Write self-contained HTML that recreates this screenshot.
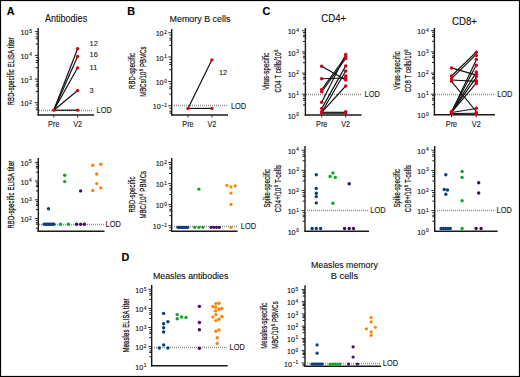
<!DOCTYPE html><html><head><meta charset="utf-8"><style>html,body{margin:0;padding:0;background:#fff}svg{display:block}text{font-family:"Liberation Sans",sans-serif}</style></head><body>
<svg width="520" height="377" viewBox="0 0 520 377">
<rect x="0" y="0" width="520" height="377" fill="#fff"/>
<text x="6.8" y="15.2" font-size="10.8" text-anchor="start" font-weight="bold" fill="#000" stroke="#000" stroke-width="0.12" >A</text>
<text x="66.1" y="21.7" font-size="10.0" text-anchor="middle" font-weight="normal" fill="#111" stroke="#111" stroke-width="0.12" textLength="42.1" lengthAdjust="spacingAndGlyphs">Antibodies</text>
<text transform="translate(14.4,105.3) rotate(-90) scale(0.6,1)" x="0" y="0" font-size="9.6" text-anchor="start" textLength="112.83" lengthAdjust="spacing" fill="#111" stroke="#111" stroke-width="0.3">RBD-specific ELISA titer</text>
<line x1="38.2" y1="28" x2="38.2" y2="115.6" stroke="#1a1a1a" stroke-width="1.4"/>
<line x1="35.80" y1="109.83" x2="38.2" y2="109.83" stroke="#1a1a1a" stroke-width="1.0"/>
<line x1="35.80" y1="107.96" x2="38.2" y2="107.96" stroke="#1a1a1a" stroke-width="1.0"/>
<line x1="35.80" y1="105.00" x2="38.2" y2="105.00" stroke="#1a1a1a" stroke-width="1.0"/>
<line x1="35.80" y1="91.39" x2="38.2" y2="91.39" stroke="#1a1a1a" stroke-width="1.0"/>
<line x1="35.80" y1="86.13" x2="38.2" y2="86.13" stroke="#1a1a1a" stroke-width="1.0"/>
<line x1="35.80" y1="84.26" x2="38.2" y2="84.26" stroke="#1a1a1a" stroke-width="1.0"/>
<line x1="35.80" y1="81.30" x2="38.2" y2="81.30" stroke="#1a1a1a" stroke-width="1.0"/>
<line x1="35.80" y1="67.69" x2="38.2" y2="67.69" stroke="#1a1a1a" stroke-width="1.0"/>
<line x1="35.80" y1="62.43" x2="38.2" y2="62.43" stroke="#1a1a1a" stroke-width="1.0"/>
<line x1="35.80" y1="60.56" x2="38.2" y2="60.56" stroke="#1a1a1a" stroke-width="1.0"/>
<line x1="35.80" y1="57.60" x2="38.2" y2="57.60" stroke="#1a1a1a" stroke-width="1.0"/>
<line x1="35.80" y1="43.99" x2="38.2" y2="43.99" stroke="#1a1a1a" stroke-width="1.0"/>
<line x1="35.80" y1="38.73" x2="38.2" y2="38.73" stroke="#1a1a1a" stroke-width="1.0"/>
<line x1="35.80" y1="36.86" x2="38.2" y2="36.86" stroke="#1a1a1a" stroke-width="1.0"/>
<line x1="35.80" y1="33.90" x2="38.2" y2="33.90" stroke="#1a1a1a" stroke-width="1.0"/>
<line x1="34.80" y1="102.70" x2="38.2" y2="102.70" stroke="#1a1a1a" stroke-width="0.9"/>
<text x="31.8" y="106.30" font-size="7.2" text-anchor="end" fill="#111" stroke="#111" stroke-width="0.12">10<tspan dx="0.6" dy="-2.6" font-size="4.8">2</tspan></text>
<line x1="34.80" y1="79.10" x2="38.2" y2="79.10" stroke="#1a1a1a" stroke-width="0.9"/>
<text x="31.8" y="82.70" font-size="7.2" text-anchor="end" fill="#111" stroke="#111" stroke-width="0.12">10<tspan dx="0.6" dy="-2.6" font-size="4.8">3</tspan></text>
<line x1="34.80" y1="55.40" x2="38.2" y2="55.40" stroke="#1a1a1a" stroke-width="0.9"/>
<text x="31.8" y="59.00" font-size="7.2" text-anchor="end" fill="#111" stroke="#111" stroke-width="0.12">10<tspan dx="0.6" dy="-2.6" font-size="4.8">4</tspan></text>
<line x1="34.80" y1="31.60" x2="38.2" y2="31.60" stroke="#1a1a1a" stroke-width="0.9"/>
<text x="31.8" y="35.20" font-size="7.2" text-anchor="end" fill="#111" stroke="#111" stroke-width="0.12">10<tspan dx="0.6" dy="-2.6" font-size="4.8">5</tspan></text>
<line x1="37.5" y1="115" x2="94" y2="115" stroke="#1a1a1a" stroke-width="1.4"/>
<line x1="53.8" y1="115" x2="53.8" y2="117.5" stroke="#1a1a1a" stroke-width="0.9"/>
<line x1="77.6" y1="115" x2="77.6" y2="117.5" stroke="#1a1a1a" stroke-width="0.9"/>
<text x="53.8" y="127" font-size="8.4" text-anchor="middle" font-weight="normal" fill="#1a1a1a" stroke="#1a1a1a" stroke-width="0.12" textLength="11.36" lengthAdjust="spacingAndGlyphs">Pre</text>
<text x="77.6" y="127" font-size="8.4" text-anchor="middle" font-weight="normal" fill="#1a1a1a" stroke="#1a1a1a" stroke-width="0.12" textLength="8.93" lengthAdjust="spacingAndGlyphs">V2</text>
<line x1="39" y1="110.5" x2="93.5" y2="110.5" stroke="#8f8f8f" stroke-width="1.3" stroke-dasharray="1 1"/>
<text x="96.6" y="113.10000000000001" font-size="8.2" text-anchor="start" font-weight="normal" fill="#1a1a1a" stroke="#1a1a1a" stroke-width="0.12" textLength="15.22" lengthAdjust="spacingAndGlyphs">LOD</text>
<line x1="53.8" y1="110.2" x2="77.6" y2="48.7" stroke="#111" stroke-width="1.2"/>
<line x1="53.8" y1="110.2" x2="77.6" y2="56.5" stroke="#111" stroke-width="1.2"/>
<line x1="53.8" y1="110.2" x2="77.6" y2="67.8" stroke="#111" stroke-width="1.2"/>
<line x1="53.8" y1="110.2" x2="77.6" y2="90.5" stroke="#111" stroke-width="1.2"/>
<line x1="53.8" y1="110.2" x2="77.6" y2="110.2" stroke="#111" stroke-width="1.2"/>
<circle cx="77.6" cy="48.7" r="1.65" fill="#d0021b"/>
<circle cx="77.6" cy="56.5" r="1.65" fill="#d0021b"/>
<circle cx="77.6" cy="67.8" r="1.65" fill="#d0021b"/>
<circle cx="77.6" cy="90.5" r="1.65" fill="#d0021b"/>
<circle cx="77.6" cy="110.2" r="1.65" fill="#d0021b"/>
<circle cx="53.8" cy="110.2" r="1.65" fill="#d0021b"/>
<text x="89.6" y="46.2" font-size="8.0" text-anchor="start" font-weight="normal" fill="#1a1a1a" stroke="#1a1a1a" stroke-width="0.12" textLength="8.23" lengthAdjust="spacingAndGlyphs">12</text>
<text x="89.6" y="56.800000000000004" font-size="8.0" text-anchor="start" font-weight="normal" fill="#1a1a1a" stroke="#1a1a1a" stroke-width="0.12" textLength="8.23" lengthAdjust="spacingAndGlyphs">16</text>
<text x="89.6" y="69.89999999999999" font-size="8.0" text-anchor="start" font-weight="normal" fill="#1a1a1a" stroke="#1a1a1a" stroke-width="0.12" textLength="7.68" lengthAdjust="spacingAndGlyphs">11</text>
<text x="89.6" y="92.6" font-size="8.0" text-anchor="start" font-weight="normal" fill="#1a1a1a" stroke="#1a1a1a" stroke-width="0.12" textLength="4.12" lengthAdjust="spacingAndGlyphs">3</text>
<text x="127.2" y="15.2" font-size="10.8" text-anchor="start" font-weight="bold" fill="#000" stroke="#000" stroke-width="0.12" >B</text>
<text x="200.0" y="21.5" font-size="9.2" text-anchor="middle" font-weight="normal" fill="#111" stroke="#111" stroke-width="0.12" textLength="60.9" lengthAdjust="spacingAndGlyphs">Memory B cells</text>
<text transform="translate(134.6,88.9) rotate(-90) scale(0.66,1)" x="0" y="0" font-size="9.0" text-anchor="start" textLength="54.24" lengthAdjust="spacing" fill="#111" stroke="#111" stroke-width="0.22">RBD-specific</text>
<text transform="translate(145.6,96.8) rotate(-90) scale(0.66,1)" x="0" y="0" font-size="9.0" text-anchor="start" textLength="76.36" lengthAdjust="spacing" fill="#111" stroke="#111" stroke-width="0.22">MBCs/10<tspan dx="0.4" dy="-2.9" font-size="6.2">6</tspan><tspan dy="2.9"> PBMCs</tspan></text>
<line x1="171.7" y1="29" x2="171.7" y2="115.6" stroke="#1a1a1a" stroke-width="1.4"/>
<line x1="169.30" y1="113.14" x2="171.7" y2="113.14" stroke="#1a1a1a" stroke-width="1.0"/>
<line x1="169.30" y1="111.21" x2="171.7" y2="111.21" stroke="#1a1a1a" stroke-width="1.0"/>
<line x1="169.30" y1="108.16" x2="171.7" y2="108.16" stroke="#1a1a1a" stroke-width="1.0"/>
<line x1="169.30" y1="94.17" x2="171.7" y2="94.17" stroke="#1a1a1a" stroke-width="1.0"/>
<line x1="169.30" y1="88.77" x2="171.7" y2="88.77" stroke="#1a1a1a" stroke-width="1.0"/>
<line x1="169.30" y1="86.84" x2="171.7" y2="86.84" stroke="#1a1a1a" stroke-width="1.0"/>
<line x1="169.30" y1="83.79" x2="171.7" y2="83.79" stroke="#1a1a1a" stroke-width="1.0"/>
<line x1="169.30" y1="69.80" x2="171.7" y2="69.80" stroke="#1a1a1a" stroke-width="1.0"/>
<line x1="169.30" y1="64.40" x2="171.7" y2="64.40" stroke="#1a1a1a" stroke-width="1.0"/>
<line x1="169.30" y1="62.47" x2="171.7" y2="62.47" stroke="#1a1a1a" stroke-width="1.0"/>
<line x1="169.30" y1="59.42" x2="171.7" y2="59.42" stroke="#1a1a1a" stroke-width="1.0"/>
<line x1="169.30" y1="45.43" x2="171.7" y2="45.43" stroke="#1a1a1a" stroke-width="1.0"/>
<line x1="169.30" y1="40.03" x2="171.7" y2="40.03" stroke="#1a1a1a" stroke-width="1.0"/>
<line x1="169.30" y1="38.10" x2="171.7" y2="38.10" stroke="#1a1a1a" stroke-width="1.0"/>
<line x1="169.30" y1="35.05" x2="171.7" y2="35.05" stroke="#1a1a1a" stroke-width="1.0"/>
<line x1="168.30" y1="105.80" x2="171.7" y2="105.80" stroke="#1a1a1a" stroke-width="0.9"/>
<text x="166.9" y="109.40" font-size="7.2" text-anchor="end" fill="#111" stroke="#111" stroke-width="0.12">10<tspan dx="0.6" dy="-2.6" font-size="4.8">−1</tspan></text>
<line x1="168.30" y1="81.50" x2="171.7" y2="81.50" stroke="#1a1a1a" stroke-width="0.9"/>
<text x="166.9" y="85.10" font-size="7.2" text-anchor="end" fill="#111" stroke="#111" stroke-width="0.12">10<tspan dx="0.6" dy="-2.6" font-size="4.8">0</tspan></text>
<line x1="168.30" y1="57.00" x2="171.7" y2="57.00" stroke="#1a1a1a" stroke-width="0.9"/>
<text x="166.9" y="60.60" font-size="7.2" text-anchor="end" fill="#111" stroke="#111" stroke-width="0.12">10<tspan dx="0.6" dy="-2.6" font-size="4.8">1</tspan></text>
<line x1="168.30" y1="32.70" x2="171.7" y2="32.70" stroke="#1a1a1a" stroke-width="0.9"/>
<text x="166.9" y="36.30" font-size="7.2" text-anchor="end" fill="#111" stroke="#111" stroke-width="0.12">10<tspan dx="0.6" dy="-2.6" font-size="4.8">2</tspan></text>
<line x1="171.0" y1="115" x2="228" y2="115" stroke="#1a1a1a" stroke-width="1.4"/>
<line x1="188" y1="115" x2="188" y2="117.5" stroke="#1a1a1a" stroke-width="0.9"/>
<line x1="211.9" y1="115" x2="211.9" y2="117.5" stroke="#1a1a1a" stroke-width="0.9"/>
<text x="188" y="126.9" font-size="8.4" text-anchor="middle" font-weight="normal" fill="#1a1a1a" stroke="#1a1a1a" stroke-width="0.12" textLength="11.36" lengthAdjust="spacingAndGlyphs">Pre</text>
<text x="211.9" y="126.9" font-size="8.4" text-anchor="middle" font-weight="normal" fill="#1a1a1a" stroke="#1a1a1a" stroke-width="0.12" textLength="8.93" lengthAdjust="spacingAndGlyphs">V2</text>
<line x1="172" y1="105.5" x2="228" y2="105.5" stroke="#8f8f8f" stroke-width="1.3" stroke-dasharray="1 1"/>
<text x="231" y="108.7" font-size="8.2" text-anchor="start" font-weight="normal" fill="#1a1a1a" stroke="#1a1a1a" stroke-width="0.12" textLength="15.22" lengthAdjust="spacingAndGlyphs">LOD</text>
<line x1="188" y1="108.4" x2="211.9" y2="59.8" stroke="#111" stroke-width="1.2"/>
<line x1="188" y1="108.4" x2="211.9" y2="108.4" stroke="#111" stroke-width="1.2"/>
<circle cx="188" cy="108.4" r="1.65" fill="#d0021b"/>
<circle cx="211.9" cy="59.8" r="1.65" fill="#d0021b"/>
<circle cx="211.9" cy="108.4" r="1.65" fill="#d0021b"/>
<text x="219" y="75.3" font-size="8.0" text-anchor="start" font-weight="normal" fill="#1a1a1a" stroke="#1a1a1a" stroke-width="0.12" textLength="8.23" lengthAdjust="spacingAndGlyphs">12</text>
<text x="262.5" y="15.2" font-size="10.8" text-anchor="start" font-weight="bold" fill="#000" stroke="#000" stroke-width="0.12" >C</text>
<text x="333.7" y="21.5" font-size="10.6" text-anchor="middle" font-weight="normal" fill="#111" stroke="#111" stroke-width="0.12" textLength="24.8" lengthAdjust="spacingAndGlyphs">CD4+</text>
<text transform="translate(269.4,90.1) rotate(-90) scale(0.66,1)" x="0" y="0" font-size="9.0" text-anchor="start" textLength="56.67" lengthAdjust="spacing" fill="#111" stroke="#111" stroke-width="0.22">Virus-specific</text>
<text transform="translate(281.0,92.4) rotate(-90) scale(0.66,1)" x="0" y="0" font-size="9.0" text-anchor="start" textLength="64.55" lengthAdjust="spacing" fill="#111" stroke="#111" stroke-width="0.22">CD4 T cells/10<tspan dx="0.4" dy="-2.9" font-size="6.2">6</tspan><tspan dy="2.9"></tspan></text>
<line x1="305.4" y1="28" x2="305.4" y2="115.6" stroke="#1a1a1a" stroke-width="1.4"/>
<line x1="303.00" y1="104.91" x2="305.4" y2="104.91" stroke="#1a1a1a" stroke-width="1.0"/>
<line x1="303.00" y1="100.22" x2="305.4" y2="100.22" stroke="#1a1a1a" stroke-width="1.0"/>
<line x1="303.00" y1="98.54" x2="305.4" y2="98.54" stroke="#1a1a1a" stroke-width="1.0"/>
<line x1="303.00" y1="95.90" x2="305.4" y2="95.90" stroke="#1a1a1a" stroke-width="1.0"/>
<line x1="303.00" y1="83.76" x2="305.4" y2="83.76" stroke="#1a1a1a" stroke-width="1.0"/>
<line x1="303.00" y1="79.07" x2="305.4" y2="79.07" stroke="#1a1a1a" stroke-width="1.0"/>
<line x1="303.00" y1="77.39" x2="305.4" y2="77.39" stroke="#1a1a1a" stroke-width="1.0"/>
<line x1="303.00" y1="74.75" x2="305.4" y2="74.75" stroke="#1a1a1a" stroke-width="1.0"/>
<line x1="303.00" y1="62.61" x2="305.4" y2="62.61" stroke="#1a1a1a" stroke-width="1.0"/>
<line x1="303.00" y1="57.92" x2="305.4" y2="57.92" stroke="#1a1a1a" stroke-width="1.0"/>
<line x1="303.00" y1="56.24" x2="305.4" y2="56.24" stroke="#1a1a1a" stroke-width="1.0"/>
<line x1="303.00" y1="53.60" x2="305.4" y2="53.60" stroke="#1a1a1a" stroke-width="1.0"/>
<line x1="303.00" y1="41.46" x2="305.4" y2="41.46" stroke="#1a1a1a" stroke-width="1.0"/>
<line x1="303.00" y1="36.77" x2="305.4" y2="36.77" stroke="#1a1a1a" stroke-width="1.0"/>
<line x1="303.00" y1="35.09" x2="305.4" y2="35.09" stroke="#1a1a1a" stroke-width="1.0"/>
<line x1="303.00" y1="32.45" x2="305.4" y2="32.45" stroke="#1a1a1a" stroke-width="1.0"/>
<text x="298.9" y="118.60" font-size="7.2" text-anchor="end" fill="#111" stroke="#111" stroke-width="0.12">10<tspan dx="0.6" dy="-2.6" font-size="4.8">0</tspan></text>
<line x1="302.00" y1="94.20" x2="305.4" y2="94.20" stroke="#1a1a1a" stroke-width="0.9"/>
<text x="298.9" y="97.80" font-size="7.2" text-anchor="end" fill="#111" stroke="#111" stroke-width="0.12">10<tspan dx="0.6" dy="-2.6" font-size="4.8">1</tspan></text>
<line x1="302.00" y1="73.10" x2="305.4" y2="73.10" stroke="#1a1a1a" stroke-width="0.9"/>
<text x="298.9" y="76.70" font-size="7.2" text-anchor="end" fill="#111" stroke="#111" stroke-width="0.12">10<tspan dx="0.6" dy="-2.6" font-size="4.8">2</tspan></text>
<line x1="302.00" y1="51.90" x2="305.4" y2="51.90" stroke="#1a1a1a" stroke-width="0.9"/>
<text x="298.9" y="55.50" font-size="7.2" text-anchor="end" fill="#111" stroke="#111" stroke-width="0.12">10<tspan dx="0.6" dy="-2.6" font-size="4.8">3</tspan></text>
<line x1="302.00" y1="30.70" x2="305.4" y2="30.70" stroke="#1a1a1a" stroke-width="0.9"/>
<text x="298.9" y="34.30" font-size="7.2" text-anchor="end" fill="#111" stroke="#111" stroke-width="0.12">10<tspan dx="0.6" dy="-2.6" font-size="4.8">4</tspan></text>
<line x1="304.7" y1="115" x2="361.5" y2="115" stroke="#1a1a1a" stroke-width="1.4"/>
<line x1="321.7" y1="115" x2="321.7" y2="117.5" stroke="#1a1a1a" stroke-width="0.9"/>
<line x1="345.7" y1="115" x2="345.7" y2="117.5" stroke="#1a1a1a" stroke-width="0.9"/>
<text x="321.7" y="126.9" font-size="8.4" text-anchor="middle" font-weight="normal" fill="#1a1a1a" stroke="#1a1a1a" stroke-width="0.12" textLength="11.36" lengthAdjust="spacingAndGlyphs">Pre</text>
<text x="345.7" y="126.9" font-size="8.4" text-anchor="middle" font-weight="normal" fill="#1a1a1a" stroke="#1a1a1a" stroke-width="0.12" textLength="8.93" lengthAdjust="spacingAndGlyphs">V2</text>
<line x1="306" y1="94.5" x2="361.5" y2="94.5" stroke="#8f8f8f" stroke-width="1.3" stroke-dasharray="1 1"/>
<text x="364.6" y="97.10000000000001" font-size="8.2" text-anchor="start" font-weight="normal" fill="#1a1a1a" stroke="#1a1a1a" stroke-width="0.12" textLength="15.22" lengthAdjust="spacingAndGlyphs">LOD</text>
<line x1="321.7" y1="66.2" x2="345.7" y2="80.0" stroke="#111" stroke-width="1.15"/>
<line x1="321.7" y1="78.7" x2="345.7" y2="78.0" stroke="#111" stroke-width="1.15"/>
<line x1="321.7" y1="89.6" x2="345.7" y2="56.5" stroke="#111" stroke-width="1.15"/>
<line x1="321.7" y1="91.8" x2="345.7" y2="58.5" stroke="#111" stroke-width="1.15"/>
<line x1="321.7" y1="102.3" x2="345.7" y2="54.5" stroke="#111" stroke-width="1.15"/>
<line x1="321.7" y1="108.6" x2="345.7" y2="65.9" stroke="#111" stroke-width="1.15"/>
<line x1="321.7" y1="112.3" x2="345.7" y2="71.0" stroke="#111" stroke-width="1.15"/>
<line x1="321.7" y1="112.3" x2="345.7" y2="86.0" stroke="#111" stroke-width="1.15"/>
<line x1="321.7" y1="112.3" x2="345.7" y2="112.3" stroke="#111" stroke-width="1.15"/>
<line x1="321.7" y1="113.2" x2="345.7" y2="113.2" stroke="#111" stroke-width="1.15"/>
<circle cx="321.7" cy="66.2" r="1.75" fill="#d0021b"/>
<circle cx="321.7" cy="78.7" r="1.75" fill="#d0021b"/>
<circle cx="321.7" cy="89.6" r="1.75" fill="#d0021b"/>
<circle cx="321.7" cy="91.8" r="1.75" fill="#d0021b"/>
<circle cx="321.7" cy="102.3" r="1.75" fill="#d0021b"/>
<circle cx="321.7" cy="108.6" r="1.75" fill="#d0021b"/>
<circle cx="321.7" cy="111.8" r="1.75" fill="#d0021b"/>
<circle cx="321.7" cy="113.0" r="1.75" fill="#d0021b"/>
<circle cx="345.7" cy="54.5" r="1.75" fill="#d0021b"/>
<circle cx="345.7" cy="56.5" r="1.75" fill="#d0021b"/>
<circle cx="345.7" cy="58.5" r="1.75" fill="#d0021b"/>
<circle cx="345.7" cy="65.9" r="1.75" fill="#d0021b"/>
<circle cx="345.7" cy="71.0" r="1.75" fill="#d0021b"/>
<circle cx="345.7" cy="76.0" r="1.75" fill="#d0021b"/>
<circle cx="345.7" cy="78.0" r="1.75" fill="#d0021b"/>
<circle cx="345.7" cy="80.0" r="1.75" fill="#d0021b"/>
<circle cx="345.7" cy="86.0" r="1.75" fill="#d0021b"/>
<circle cx="345.7" cy="111.8" r="1.75" fill="#d0021b"/>
<circle cx="345.7" cy="113.0" r="1.75" fill="#d0021b"/>
<text x="464.5" y="24.6" font-size="10.6" text-anchor="middle" font-weight="normal" fill="#111" stroke="#111" stroke-width="0.12" textLength="25.0" lengthAdjust="spacingAndGlyphs">CD8+</text>
<text transform="translate(400.0,89.7) rotate(-90) scale(0.66,1)" x="0" y="0" font-size="9.0" text-anchor="start" textLength="58.18" lengthAdjust="spacing" fill="#111" stroke="#111" stroke-width="0.22">Virus-specific</text>
<text transform="translate(411.2,92.3) rotate(-90) scale(0.66,1)" x="0" y="0" font-size="9.0" text-anchor="start" textLength="65.00" lengthAdjust="spacing" fill="#111" stroke="#111" stroke-width="0.22">CD8 T cells/10<tspan dx="0.4" dy="-2.9" font-size="6.2">6</tspan><tspan dy="2.9"></tspan></text>
<line x1="434.4" y1="28" x2="434.4" y2="115.39999999999999" stroke="#1a1a1a" stroke-width="1.4"/>
<line x1="432.00" y1="104.71" x2="434.4" y2="104.71" stroke="#1a1a1a" stroke-width="1.0"/>
<line x1="432.00" y1="100.02" x2="434.4" y2="100.02" stroke="#1a1a1a" stroke-width="1.0"/>
<line x1="432.00" y1="98.34" x2="434.4" y2="98.34" stroke="#1a1a1a" stroke-width="1.0"/>
<line x1="432.00" y1="95.70" x2="434.4" y2="95.70" stroke="#1a1a1a" stroke-width="1.0"/>
<line x1="432.00" y1="83.56" x2="434.4" y2="83.56" stroke="#1a1a1a" stroke-width="1.0"/>
<line x1="432.00" y1="78.87" x2="434.4" y2="78.87" stroke="#1a1a1a" stroke-width="1.0"/>
<line x1="432.00" y1="77.19" x2="434.4" y2="77.19" stroke="#1a1a1a" stroke-width="1.0"/>
<line x1="432.00" y1="74.55" x2="434.4" y2="74.55" stroke="#1a1a1a" stroke-width="1.0"/>
<line x1="432.00" y1="62.41" x2="434.4" y2="62.41" stroke="#1a1a1a" stroke-width="1.0"/>
<line x1="432.00" y1="57.72" x2="434.4" y2="57.72" stroke="#1a1a1a" stroke-width="1.0"/>
<line x1="432.00" y1="56.04" x2="434.4" y2="56.04" stroke="#1a1a1a" stroke-width="1.0"/>
<line x1="432.00" y1="53.40" x2="434.4" y2="53.40" stroke="#1a1a1a" stroke-width="1.0"/>
<line x1="432.00" y1="41.26" x2="434.4" y2="41.26" stroke="#1a1a1a" stroke-width="1.0"/>
<line x1="432.00" y1="36.57" x2="434.4" y2="36.57" stroke="#1a1a1a" stroke-width="1.0"/>
<line x1="432.00" y1="34.89" x2="434.4" y2="34.89" stroke="#1a1a1a" stroke-width="1.0"/>
<line x1="432.00" y1="32.25" x2="434.4" y2="32.25" stroke="#1a1a1a" stroke-width="1.0"/>
<text x="428.6" y="118.40" font-size="7.2" text-anchor="end" fill="#111" stroke="#111" stroke-width="0.12">10<tspan dx="0.6" dy="-2.6" font-size="4.8">0</tspan></text>
<line x1="431.00" y1="94.20" x2="434.4" y2="94.20" stroke="#1a1a1a" stroke-width="0.9"/>
<text x="428.6" y="97.80" font-size="7.2" text-anchor="end" fill="#111" stroke="#111" stroke-width="0.12">10<tspan dx="0.6" dy="-2.6" font-size="4.8">1</tspan></text>
<line x1="431.00" y1="73.10" x2="434.4" y2="73.10" stroke="#1a1a1a" stroke-width="0.9"/>
<text x="428.6" y="76.70" font-size="7.2" text-anchor="end" fill="#111" stroke="#111" stroke-width="0.12">10<tspan dx="0.6" dy="-2.6" font-size="4.8">2</tspan></text>
<line x1="431.00" y1="51.90" x2="434.4" y2="51.90" stroke="#1a1a1a" stroke-width="0.9"/>
<text x="428.6" y="55.50" font-size="7.2" text-anchor="end" fill="#111" stroke="#111" stroke-width="0.12">10<tspan dx="0.6" dy="-2.6" font-size="4.8">3</tspan></text>
<line x1="431.00" y1="30.70" x2="434.4" y2="30.70" stroke="#1a1a1a" stroke-width="0.9"/>
<text x="428.6" y="34.30" font-size="7.2" text-anchor="end" fill="#111" stroke="#111" stroke-width="0.12">10<tspan dx="0.6" dy="-2.6" font-size="4.8">4</tspan></text>
<line x1="433.7" y1="114.8" x2="495" y2="114.8" stroke="#1a1a1a" stroke-width="1.4"/>
<line x1="451.5" y1="114.8" x2="451.5" y2="117.3" stroke="#1a1a1a" stroke-width="0.9"/>
<line x1="476.3" y1="114.8" x2="476.3" y2="117.3" stroke="#1a1a1a" stroke-width="0.9"/>
<text x="451.5" y="126.6" font-size="8.4" text-anchor="middle" font-weight="normal" fill="#1a1a1a" stroke="#1a1a1a" stroke-width="0.12" textLength="11.36" lengthAdjust="spacingAndGlyphs">Pre</text>
<text x="476.3" y="126.6" font-size="8.4" text-anchor="middle" font-weight="normal" fill="#1a1a1a" stroke="#1a1a1a" stroke-width="0.12" textLength="8.93" lengthAdjust="spacingAndGlyphs">V2</text>
<line x1="435" y1="94.5" x2="495.4" y2="94.5" stroke="#8f8f8f" stroke-width="1.3" stroke-dasharray="1 1"/>
<text x="497.2" y="97.10000000000001" font-size="8.2" text-anchor="start" font-weight="normal" fill="#1a1a1a" stroke="#1a1a1a" stroke-width="0.12" textLength="15.22" lengthAdjust="spacingAndGlyphs">LOD</text>
<line x1="451.5" y1="67.9" x2="476.3" y2="75.1" stroke="#111" stroke-width="1.15"/>
<line x1="451.5" y1="76.0" x2="476.3" y2="52.0" stroke="#111" stroke-width="1.15"/>
<line x1="451.5" y1="78.7" x2="476.3" y2="54.3" stroke="#111" stroke-width="1.15"/>
<line x1="451.5" y1="80.0" x2="476.3" y2="81.4" stroke="#111" stroke-width="1.15"/>
<line x1="451.5" y1="81.4" x2="476.3" y2="111.5" stroke="#111" stroke-width="1.15"/>
<line x1="451.5" y1="112.3" x2="476.3" y2="59.7" stroke="#111" stroke-width="1.15"/>
<line x1="451.5" y1="112.3" x2="476.3" y2="65.1" stroke="#111" stroke-width="1.15"/>
<line x1="451.5" y1="112.3" x2="476.3" y2="72.4" stroke="#111" stroke-width="1.15"/>
<line x1="451.5" y1="112.3" x2="476.3" y2="77.4" stroke="#111" stroke-width="1.15"/>
<line x1="451.5" y1="112.3" x2="476.3" y2="83.2" stroke="#111" stroke-width="1.15"/>
<line x1="451.5" y1="112.5" x2="476.3" y2="108.5" stroke="#111" stroke-width="1.15"/>
<line x1="451.5" y1="113.5" x2="476.3" y2="113.3" stroke="#111" stroke-width="1.15"/>
<circle cx="451.5" cy="67.9" r="1.75" fill="#d0021b"/>
<circle cx="451.5" cy="76.0" r="1.75" fill="#d0021b"/>
<circle cx="451.5" cy="78.7" r="1.75" fill="#d0021b"/>
<circle cx="451.5" cy="81.2" r="1.75" fill="#d0021b"/>
<circle cx="451.5" cy="111.5" r="1.75" fill="#d0021b"/>
<circle cx="451.5" cy="112.5" r="1.75" fill="#d0021b"/>
<circle cx="451.5" cy="113.5" r="1.75" fill="#d0021b"/>
<circle cx="476.3" cy="52.3" r="1.75" fill="#d0021b"/>
<circle cx="476.3" cy="55.4" r="1.75" fill="#d0021b"/>
<circle cx="476.3" cy="59.5" r="1.75" fill="#d0021b"/>
<circle cx="476.3" cy="65.2" r="1.75" fill="#d0021b"/>
<circle cx="476.3" cy="71.9" r="1.75" fill="#d0021b"/>
<circle cx="476.3" cy="74.3" r="1.75" fill="#d0021b"/>
<circle cx="476.3" cy="76.7" r="1.75" fill="#d0021b"/>
<circle cx="476.3" cy="80.8" r="1.75" fill="#d0021b"/>
<circle cx="476.3" cy="81.4" r="1.75" fill="#d0021b"/>
<circle cx="476.3" cy="83.6" r="1.75" fill="#d0021b"/>
<circle cx="476.3" cy="108.2" r="1.75" fill="#d0021b"/>
<circle cx="476.3" cy="112.5" r="1.75" fill="#d0021b"/>
<circle cx="476.3" cy="113.8" r="1.75" fill="#d0021b"/>
<text transform="translate(14.4,228.6) rotate(-90) scale(0.6,1)" x="0" y="0" font-size="9.6" text-anchor="start" textLength="113.17" lengthAdjust="spacing" fill="#111" stroke="#111" stroke-width="0.3">RBD-specific ELISA titer</text>
<line x1="38.3" y1="158" x2="38.3" y2="231.79999999999998" stroke="#1a1a1a" stroke-width="1.4"/>
<line x1="35.90" y1="228.29" x2="38.3" y2="228.29" stroke="#1a1a1a" stroke-width="1.0"/>
<line x1="35.90" y1="224.14" x2="38.3" y2="224.14" stroke="#1a1a1a" stroke-width="1.0"/>
<line x1="35.90" y1="222.66" x2="38.3" y2="222.66" stroke="#1a1a1a" stroke-width="1.0"/>
<line x1="35.90" y1="220.32" x2="38.3" y2="220.32" stroke="#1a1a1a" stroke-width="1.0"/>
<line x1="35.90" y1="209.56" x2="38.3" y2="209.56" stroke="#1a1a1a" stroke-width="1.0"/>
<line x1="35.90" y1="205.41" x2="38.3" y2="205.41" stroke="#1a1a1a" stroke-width="1.0"/>
<line x1="35.90" y1="203.93" x2="38.3" y2="203.93" stroke="#1a1a1a" stroke-width="1.0"/>
<line x1="35.90" y1="201.59" x2="38.3" y2="201.59" stroke="#1a1a1a" stroke-width="1.0"/>
<line x1="35.90" y1="190.83" x2="38.3" y2="190.83" stroke="#1a1a1a" stroke-width="1.0"/>
<line x1="35.90" y1="186.68" x2="38.3" y2="186.68" stroke="#1a1a1a" stroke-width="1.0"/>
<line x1="35.90" y1="185.20" x2="38.3" y2="185.20" stroke="#1a1a1a" stroke-width="1.0"/>
<line x1="35.90" y1="182.86" x2="38.3" y2="182.86" stroke="#1a1a1a" stroke-width="1.0"/>
<line x1="35.90" y1="172.10" x2="38.3" y2="172.10" stroke="#1a1a1a" stroke-width="1.0"/>
<line x1="35.90" y1="167.95" x2="38.3" y2="167.95" stroke="#1a1a1a" stroke-width="1.0"/>
<line x1="35.90" y1="166.47" x2="38.3" y2="166.47" stroke="#1a1a1a" stroke-width="1.0"/>
<line x1="35.90" y1="164.13" x2="38.3" y2="164.13" stroke="#1a1a1a" stroke-width="1.0"/>
<line x1="34.90" y1="218.50" x2="38.3" y2="218.50" stroke="#1a1a1a" stroke-width="0.9"/>
<text x="31.7" y="222.10" font-size="7.2" text-anchor="end" fill="#111" stroke="#111" stroke-width="0.12">10<tspan dx="0.6" dy="-2.6" font-size="4.8">2</tspan></text>
<line x1="34.90" y1="199.80" x2="38.3" y2="199.80" stroke="#1a1a1a" stroke-width="0.9"/>
<text x="31.7" y="203.40" font-size="7.2" text-anchor="end" fill="#111" stroke="#111" stroke-width="0.12">10<tspan dx="0.6" dy="-2.6" font-size="4.8">3</tspan></text>
<line x1="34.90" y1="181.00" x2="38.3" y2="181.00" stroke="#1a1a1a" stroke-width="0.9"/>
<text x="31.7" y="184.60" font-size="7.2" text-anchor="end" fill="#111" stroke="#111" stroke-width="0.12">10<tspan dx="0.6" dy="-2.6" font-size="4.8">4</tspan></text>
<line x1="34.90" y1="162.30" x2="38.3" y2="162.30" stroke="#1a1a1a" stroke-width="0.9"/>
<text x="31.7" y="165.90" font-size="7.2" text-anchor="end" fill="#111" stroke="#111" stroke-width="0.12">10<tspan dx="0.6" dy="-2.6" font-size="4.8">5</tspan></text>
<line x1="37.599999999999994" y1="231.2" x2="104.5" y2="231.2" stroke="#1a1a1a" stroke-width="1.4"/>
<line x1="39" y1="224.5" x2="104.5" y2="224.5" stroke="#8f8f8f" stroke-width="1.3" stroke-dasharray="1 1"/>
<text x="105.6" y="226.9" font-size="8.2" text-anchor="start" font-weight="normal" fill="#1a1a1a" stroke="#1a1a1a" stroke-width="0.12" textLength="15.22" lengthAdjust="spacingAndGlyphs">LOD</text>
<circle cx="44.2" cy="224.2" r="1.7" fill="#0b3f7e"/>
<circle cx="45.6" cy="224.2" r="1.7" fill="#0b3f7e"/>
<circle cx="47.0" cy="224.2" r="1.7" fill="#0b3f7e"/>
<circle cx="48.4" cy="224.2" r="1.7" fill="#0b3f7e"/>
<circle cx="49.8" cy="224.2" r="1.7" fill="#0b3f7e"/>
<circle cx="51.2" cy="224.2" r="1.7" fill="#0b3f7e"/>
<circle cx="52.6" cy="224.2" r="1.7" fill="#0b3f7e"/>
<circle cx="53.8" cy="224.2" r="1.7" fill="#0b3f7e"/>
<circle cx="48.5" cy="208.7" r="1.7" fill="#0b3f7e"/>
<circle cx="64.7" cy="175.3" r="1.7" fill="#12a52a"/>
<circle cx="64.7" cy="181.6" r="1.7" fill="#12a52a"/>
<circle cx="60.5" cy="224.2" r="1.7" fill="#12a52a"/>
<circle cx="68.4" cy="224.2" r="1.7" fill="#12a52a"/>
<circle cx="80.6" cy="190.9" r="1.7" fill="#430c63"/>
<circle cx="76.6" cy="224.2" r="1.7" fill="#430c63"/>
<circle cx="80.6" cy="224.2" r="1.7" fill="#430c63"/>
<circle cx="84.3" cy="224.2" r="1.7" fill="#430c63"/>
<circle cx="92.7" cy="165.2" r="1.7" fill="#ff8200"/>
<circle cx="100.8" cy="164.2" r="1.7" fill="#ff8200"/>
<circle cx="96.7" cy="174.0" r="1.7" fill="#ff8200"/>
<circle cx="96.7" cy="183.6" r="1.7" fill="#ff8200"/>
<circle cx="92.7" cy="190.4" r="1.7" fill="#ff8200"/>
<circle cx="100.8" cy="187.9" r="1.7" fill="#ff8200"/>
<text transform="translate(134.5,212.6) rotate(-90) scale(0.66,1)" x="0" y="0" font-size="9.0" text-anchor="start" textLength="54.55" lengthAdjust="spacing" fill="#111" stroke="#111" stroke-width="0.22">RBD-specific</text>
<text transform="translate(145.7,218.6) rotate(-90) scale(0.66,1)" x="0" y="0" font-size="9.0" text-anchor="start" textLength="72.27" lengthAdjust="spacing" fill="#111" stroke="#111" stroke-width="0.22">MBC/10<tspan dx="0.4" dy="-2.9" font-size="6.2">6</tspan><tspan dy="2.9"> PBMCs</tspan></text>
<line x1="171.7" y1="158" x2="171.7" y2="231.79999999999998" stroke="#1a1a1a" stroke-width="1.4"/>
<line x1="169.30" y1="230.37" x2="171.7" y2="230.37" stroke="#1a1a1a" stroke-width="1.0"/>
<line x1="169.30" y1="227.74" x2="171.7" y2="227.74" stroke="#1a1a1a" stroke-width="1.0"/>
<line x1="169.30" y1="215.65" x2="171.7" y2="215.65" stroke="#1a1a1a" stroke-width="1.0"/>
<line x1="169.30" y1="210.97" x2="171.7" y2="210.97" stroke="#1a1a1a" stroke-width="1.0"/>
<line x1="169.30" y1="209.30" x2="171.7" y2="209.30" stroke="#1a1a1a" stroke-width="1.0"/>
<line x1="169.30" y1="206.67" x2="171.7" y2="206.67" stroke="#1a1a1a" stroke-width="1.0"/>
<line x1="169.30" y1="194.58" x2="171.7" y2="194.58" stroke="#1a1a1a" stroke-width="1.0"/>
<line x1="169.30" y1="189.90" x2="171.7" y2="189.90" stroke="#1a1a1a" stroke-width="1.0"/>
<line x1="169.30" y1="188.23" x2="171.7" y2="188.23" stroke="#1a1a1a" stroke-width="1.0"/>
<line x1="169.30" y1="185.60" x2="171.7" y2="185.60" stroke="#1a1a1a" stroke-width="1.0"/>
<line x1="169.30" y1="173.51" x2="171.7" y2="173.51" stroke="#1a1a1a" stroke-width="1.0"/>
<line x1="169.30" y1="168.83" x2="171.7" y2="168.83" stroke="#1a1a1a" stroke-width="1.0"/>
<line x1="169.30" y1="167.16" x2="171.7" y2="167.16" stroke="#1a1a1a" stroke-width="1.0"/>
<line x1="169.30" y1="164.53" x2="171.7" y2="164.53" stroke="#1a1a1a" stroke-width="1.0"/>
<line x1="168.30" y1="225.70" x2="171.7" y2="225.70" stroke="#1a1a1a" stroke-width="0.9"/>
<text x="166.9" y="229.30" font-size="7.2" text-anchor="end" fill="#111" stroke="#111" stroke-width="0.12">10<tspan dx="0.6" dy="-2.6" font-size="4.8">−1</tspan></text>
<line x1="168.30" y1="204.60" x2="171.7" y2="204.60" stroke="#1a1a1a" stroke-width="0.9"/>
<text x="166.9" y="208.20" font-size="7.2" text-anchor="end" fill="#111" stroke="#111" stroke-width="0.12">10<tspan dx="0.6" dy="-2.6" font-size="4.8">0</tspan></text>
<line x1="168.30" y1="183.60" x2="171.7" y2="183.60" stroke="#1a1a1a" stroke-width="0.9"/>
<text x="166.9" y="187.20" font-size="7.2" text-anchor="end" fill="#111" stroke="#111" stroke-width="0.12">10<tspan dx="0.6" dy="-2.6" font-size="4.8">1</tspan></text>
<line x1="168.30" y1="162.50" x2="171.7" y2="162.50" stroke="#1a1a1a" stroke-width="0.9"/>
<text x="166.9" y="166.10" font-size="7.2" text-anchor="end" fill="#111" stroke="#111" stroke-width="0.12">10<tspan dx="0.6" dy="-2.6" font-size="4.8">2</tspan></text>
<line x1="171.0" y1="231.2" x2="237.5" y2="231.2" stroke="#1a1a1a" stroke-width="1.4"/>
<line x1="172" y1="226.5" x2="237.5" y2="226.5" stroke="#8f8f8f" stroke-width="1.3" stroke-dasharray="1 1"/>
<text x="240.8" y="229.3" font-size="8.2" text-anchor="start" font-weight="normal" fill="#1a1a1a" stroke="#1a1a1a" stroke-width="0.12" textLength="15.22" lengthAdjust="spacingAndGlyphs">LOD</text>
<circle cx="178.0" cy="227.3" r="1.6" fill="#0b3f7e"/>
<circle cx="179.4" cy="227.3" r="1.6" fill="#0b3f7e"/>
<circle cx="180.8" cy="227.3" r="1.6" fill="#0b3f7e"/>
<circle cx="182.2" cy="227.3" r="1.6" fill="#0b3f7e"/>
<circle cx="183.6" cy="227.3" r="1.6" fill="#0b3f7e"/>
<circle cx="185.0" cy="227.3" r="1.6" fill="#0b3f7e"/>
<circle cx="186.4" cy="227.3" r="1.6" fill="#0b3f7e"/>
<circle cx="187.8" cy="227.3" r="1.6" fill="#0b3f7e"/>
<circle cx="194.7" cy="227.3" r="1.6" fill="#12a52a"/>
<circle cx="198.9" cy="227.3" r="1.6" fill="#12a52a"/>
<circle cx="202.9" cy="227.3" r="1.6" fill="#12a52a"/>
<circle cx="198.9" cy="189.2" r="1.6" fill="#12a52a"/>
<circle cx="211.0" cy="227.3" r="1.6" fill="#430c63"/>
<circle cx="213.8" cy="227.3" r="1.6" fill="#430c63"/>
<circle cx="216.5" cy="227.3" r="1.6" fill="#430c63"/>
<circle cx="219.3" cy="227.3" r="1.6" fill="#430c63"/>
<circle cx="226.9" cy="185.3" r="1.6" fill="#ff8200"/>
<circle cx="231.0" cy="186.8" r="1.6" fill="#ff8200"/>
<circle cx="235.1" cy="185.8" r="1.6" fill="#ff8200"/>
<circle cx="231.0" cy="193.1" r="1.6" fill="#ff8200"/>
<circle cx="231.0" cy="204.4" r="1.6" fill="#ff8200"/>
<circle cx="231.0" cy="227.3" r="1.6" fill="#ff8200"/>
<text transform="translate(269.9,207.6) rotate(-90) scale(0.66,1)" x="0" y="0" font-size="9.0" text-anchor="start" textLength="58.48" lengthAdjust="spacing" fill="#111" stroke="#111" stroke-width="0.22">Spike-specific</text>
<text transform="translate(281.2,212.2) rotate(-90) scale(0.66,1)" x="0" y="0" font-size="9.0" text-anchor="start" textLength="71.52" lengthAdjust="spacing" fill="#111" stroke="#111" stroke-width="0.22">CD4+/10<tspan dx="0.4" dy="-2.9" font-size="6.2">6</tspan><tspan dy="2.9"> T-cells</tspan></text>
<line x1="305.0" y1="146" x2="305.0" y2="231.4" stroke="#1a1a1a" stroke-width="1.4"/>
<line x1="302.60" y1="221.28" x2="305.0" y2="221.28" stroke="#1a1a1a" stroke-width="1.0"/>
<line x1="302.60" y1="216.80" x2="305.0" y2="216.80" stroke="#1a1a1a" stroke-width="1.0"/>
<line x1="302.60" y1="215.20" x2="305.0" y2="215.20" stroke="#1a1a1a" stroke-width="1.0"/>
<line x1="302.60" y1="212.68" x2="305.0" y2="212.68" stroke="#1a1a1a" stroke-width="1.0"/>
<line x1="302.60" y1="201.11" x2="305.0" y2="201.11" stroke="#1a1a1a" stroke-width="1.0"/>
<line x1="302.60" y1="196.63" x2="305.0" y2="196.63" stroke="#1a1a1a" stroke-width="1.0"/>
<line x1="302.60" y1="195.03" x2="305.0" y2="195.03" stroke="#1a1a1a" stroke-width="1.0"/>
<line x1="302.60" y1="192.51" x2="305.0" y2="192.51" stroke="#1a1a1a" stroke-width="1.0"/>
<line x1="302.60" y1="180.94" x2="305.0" y2="180.94" stroke="#1a1a1a" stroke-width="1.0"/>
<line x1="302.60" y1="176.46" x2="305.0" y2="176.46" stroke="#1a1a1a" stroke-width="1.0"/>
<line x1="302.60" y1="174.86" x2="305.0" y2="174.86" stroke="#1a1a1a" stroke-width="1.0"/>
<line x1="302.60" y1="172.34" x2="305.0" y2="172.34" stroke="#1a1a1a" stroke-width="1.0"/>
<line x1="302.60" y1="160.77" x2="305.0" y2="160.77" stroke="#1a1a1a" stroke-width="1.0"/>
<line x1="302.60" y1="156.29" x2="305.0" y2="156.29" stroke="#1a1a1a" stroke-width="1.0"/>
<line x1="302.60" y1="154.69" x2="305.0" y2="154.69" stroke="#1a1a1a" stroke-width="1.0"/>
<line x1="302.60" y1="152.17" x2="305.0" y2="152.17" stroke="#1a1a1a" stroke-width="1.0"/>
<text x="298.9" y="234.50" font-size="7.2" text-anchor="end" fill="#111" stroke="#111" stroke-width="0.12">10<tspan dx="0.6" dy="-2.6" font-size="4.8">0</tspan></text>
<line x1="301.60" y1="210.60" x2="305.0" y2="210.60" stroke="#1a1a1a" stroke-width="0.9"/>
<text x="298.9" y="214.20" font-size="7.2" text-anchor="end" fill="#111" stroke="#111" stroke-width="0.12">10<tspan dx="0.6" dy="-2.6" font-size="4.8">1</tspan></text>
<line x1="301.60" y1="190.50" x2="305.0" y2="190.50" stroke="#1a1a1a" stroke-width="0.9"/>
<text x="298.9" y="194.10" font-size="7.2" text-anchor="end" fill="#111" stroke="#111" stroke-width="0.12">10<tspan dx="0.6" dy="-2.6" font-size="4.8">2</tspan></text>
<line x1="301.60" y1="170.40" x2="305.0" y2="170.40" stroke="#1a1a1a" stroke-width="0.9"/>
<text x="298.9" y="174.00" font-size="7.2" text-anchor="end" fill="#111" stroke="#111" stroke-width="0.12">10<tspan dx="0.6" dy="-2.6" font-size="4.8">3</tspan></text>
<line x1="301.60" y1="150.20" x2="305.0" y2="150.20" stroke="#1a1a1a" stroke-width="0.9"/>
<text x="298.9" y="153.80" font-size="7.2" text-anchor="end" fill="#111" stroke="#111" stroke-width="0.12">10<tspan dx="0.6" dy="-2.6" font-size="4.8">4</tspan></text>
<line x1="304.3" y1="231.3" x2="369" y2="231.3" stroke="#1a1a1a" stroke-width="1.4"/>
<line x1="305" y1="210.5" x2="368.1" y2="210.5" stroke="#8f8f8f" stroke-width="1.3" stroke-dasharray="1 1"/>
<text x="370.3" y="213.0" font-size="8.2" text-anchor="start" font-weight="normal" fill="#1a1a1a" stroke="#1a1a1a" stroke-width="0.12" textLength="15.22" lengthAdjust="spacingAndGlyphs">LOD</text>
<circle cx="316.3" cy="174.7" r="1.7" fill="#0b3f7e"/>
<circle cx="316.3" cy="188.4" r="1.7" fill="#0b3f7e"/>
<circle cx="316.3" cy="193.2" r="1.7" fill="#0b3f7e"/>
<circle cx="316.3" cy="196.6" r="1.7" fill="#0b3f7e"/>
<circle cx="316.3" cy="202.9" r="1.7" fill="#0b3f7e"/>
<circle cx="312.1" cy="228.5" r="1.7" fill="#0b3f7e"/>
<circle cx="316.3" cy="228.5" r="1.7" fill="#0b3f7e"/>
<circle cx="320.6" cy="228.5" r="1.7" fill="#0b3f7e"/>
<circle cx="330.1" cy="176.5" r="1.7" fill="#12a52a"/>
<circle cx="332.9" cy="173.0" r="1.7" fill="#12a52a"/>
<circle cx="335.3" cy="177.4" r="1.7" fill="#12a52a"/>
<circle cx="332.9" cy="203.3" r="1.7" fill="#12a52a"/>
<circle cx="349.2" cy="183.8" r="1.7" fill="#430c63"/>
<circle cx="344.6" cy="228.5" r="1.7" fill="#430c63"/>
<circle cx="349.2" cy="228.5" r="1.7" fill="#430c63"/>
<circle cx="353.5" cy="228.5" r="1.7" fill="#430c63"/>
<text transform="translate(399.9,207.6) rotate(-90) scale(0.66,1)" x="0" y="0" font-size="9.0" text-anchor="start" textLength="58.48" lengthAdjust="spacing" fill="#111" stroke="#111" stroke-width="0.22">Spike-specific</text>
<text transform="translate(411.2,212.2) rotate(-90) scale(0.66,1)" x="0" y="0" font-size="9.0" text-anchor="start" textLength="71.52" lengthAdjust="spacing" fill="#111" stroke="#111" stroke-width="0.22">CD8+/10<tspan dx="0.4" dy="-2.9" font-size="6.2">6</tspan><tspan dy="2.9"> T-cells</tspan></text>
<line x1="434.7" y1="146" x2="434.7" y2="231.4" stroke="#1a1a1a" stroke-width="1.4"/>
<line x1="432.30" y1="221.28" x2="434.7" y2="221.28" stroke="#1a1a1a" stroke-width="1.0"/>
<line x1="432.30" y1="216.80" x2="434.7" y2="216.80" stroke="#1a1a1a" stroke-width="1.0"/>
<line x1="432.30" y1="215.20" x2="434.7" y2="215.20" stroke="#1a1a1a" stroke-width="1.0"/>
<line x1="432.30" y1="212.68" x2="434.7" y2="212.68" stroke="#1a1a1a" stroke-width="1.0"/>
<line x1="432.30" y1="201.11" x2="434.7" y2="201.11" stroke="#1a1a1a" stroke-width="1.0"/>
<line x1="432.30" y1="196.63" x2="434.7" y2="196.63" stroke="#1a1a1a" stroke-width="1.0"/>
<line x1="432.30" y1="195.03" x2="434.7" y2="195.03" stroke="#1a1a1a" stroke-width="1.0"/>
<line x1="432.30" y1="192.51" x2="434.7" y2="192.51" stroke="#1a1a1a" stroke-width="1.0"/>
<line x1="432.30" y1="180.94" x2="434.7" y2="180.94" stroke="#1a1a1a" stroke-width="1.0"/>
<line x1="432.30" y1="176.46" x2="434.7" y2="176.46" stroke="#1a1a1a" stroke-width="1.0"/>
<line x1="432.30" y1="174.86" x2="434.7" y2="174.86" stroke="#1a1a1a" stroke-width="1.0"/>
<line x1="432.30" y1="172.34" x2="434.7" y2="172.34" stroke="#1a1a1a" stroke-width="1.0"/>
<line x1="432.30" y1="160.77" x2="434.7" y2="160.77" stroke="#1a1a1a" stroke-width="1.0"/>
<line x1="432.30" y1="156.29" x2="434.7" y2="156.29" stroke="#1a1a1a" stroke-width="1.0"/>
<line x1="432.30" y1="154.69" x2="434.7" y2="154.69" stroke="#1a1a1a" stroke-width="1.0"/>
<line x1="432.30" y1="152.17" x2="434.7" y2="152.17" stroke="#1a1a1a" stroke-width="1.0"/>
<text x="428.6" y="234.50" font-size="7.2" text-anchor="end" fill="#111" stroke="#111" stroke-width="0.12">10<tspan dx="0.6" dy="-2.6" font-size="4.8">0</tspan></text>
<line x1="431.30" y1="210.60" x2="434.7" y2="210.60" stroke="#1a1a1a" stroke-width="0.9"/>
<text x="428.6" y="214.20" font-size="7.2" text-anchor="end" fill="#111" stroke="#111" stroke-width="0.12">10<tspan dx="0.6" dy="-2.6" font-size="4.8">1</tspan></text>
<line x1="431.30" y1="190.50" x2="434.7" y2="190.50" stroke="#1a1a1a" stroke-width="0.9"/>
<text x="428.6" y="194.10" font-size="7.2" text-anchor="end" fill="#111" stroke="#111" stroke-width="0.12">10<tspan dx="0.6" dy="-2.6" font-size="4.8">2</tspan></text>
<line x1="431.30" y1="170.40" x2="434.7" y2="170.40" stroke="#1a1a1a" stroke-width="0.9"/>
<text x="428.6" y="174.00" font-size="7.2" text-anchor="end" fill="#111" stroke="#111" stroke-width="0.12">10<tspan dx="0.6" dy="-2.6" font-size="4.8">3</tspan></text>
<line x1="431.30" y1="150.20" x2="434.7" y2="150.20" stroke="#1a1a1a" stroke-width="0.9"/>
<text x="428.6" y="153.80" font-size="7.2" text-anchor="end" fill="#111" stroke="#111" stroke-width="0.12">10<tspan dx="0.6" dy="-2.6" font-size="4.8">4</tspan></text>
<line x1="434.0" y1="231.3" x2="497.6" y2="231.3" stroke="#1a1a1a" stroke-width="1.4"/>
<line x1="435" y1="210.5" x2="495.3" y2="210.5" stroke="#8f8f8f" stroke-width="1.3" stroke-dasharray="1 1"/>
<text x="496.6" y="213.0" font-size="8.2" text-anchor="start" font-weight="normal" fill="#1a1a1a" stroke="#1a1a1a" stroke-width="0.12" textLength="15.22" lengthAdjust="spacingAndGlyphs">LOD</text>
<circle cx="445.8" cy="174.8" r="1.7" fill="#0b3f7e"/>
<circle cx="444.3" cy="189.5" r="1.7" fill="#0b3f7e"/>
<circle cx="447.5" cy="190.0" r="1.7" fill="#0b3f7e"/>
<circle cx="445.8" cy="194.3" r="1.7" fill="#0b3f7e"/>
<circle cx="441.1" cy="228.5" r="1.7" fill="#0b3f7e"/>
<circle cx="443.4" cy="228.5" r="1.7" fill="#0b3f7e"/>
<circle cx="445.7" cy="228.5" r="1.7" fill="#0b3f7e"/>
<circle cx="448.0" cy="228.5" r="1.7" fill="#0b3f7e"/>
<circle cx="450.3" cy="228.5" r="1.7" fill="#0b3f7e"/>
<circle cx="462.1" cy="171.5" r="1.7" fill="#12a52a"/>
<circle cx="462.1" cy="177.4" r="1.7" fill="#12a52a"/>
<circle cx="462.1" cy="200.7" r="1.7" fill="#12a52a"/>
<circle cx="462.1" cy="228.5" r="1.7" fill="#12a52a"/>
<circle cx="478.7" cy="182.8" r="1.7" fill="#430c63"/>
<circle cx="478.7" cy="193.0" r="1.7" fill="#430c63"/>
<circle cx="476.1" cy="228.5" r="1.7" fill="#430c63"/>
<circle cx="481.1" cy="228.5" r="1.7" fill="#430c63"/>
<text x="121.6" y="261.2" font-size="10.8" text-anchor="start" font-weight="bold" fill="#000" stroke="#000" stroke-width="0.12" >D</text>
<text x="190.6" y="278.5" font-size="9.0" text-anchor="middle" font-weight="normal" fill="#111" stroke="#111" stroke-width="0.12" textLength="75.4" lengthAdjust="spacingAndGlyphs">Measles antibodies</text>
<text transform="translate(128.6,352.3) rotate(-90) scale(0.6,1)" x="0" y="0" font-size="9.6" text-anchor="start" textLength="89.67" lengthAdjust="spacing" fill="#111" stroke="#111" stroke-width="0.3">Measles ELISA titer</text>
<line x1="151.7" y1="285.1" x2="151.7" y2="366.40000000000003" stroke="#1a1a1a" stroke-width="1.4"/>
<line x1="149.30" y1="356.77" x2="151.7" y2="356.77" stroke="#1a1a1a" stroke-width="1.0"/>
<line x1="149.30" y1="352.53" x2="151.7" y2="352.53" stroke="#1a1a1a" stroke-width="1.0"/>
<line x1="149.30" y1="351.01" x2="151.7" y2="351.01" stroke="#1a1a1a" stroke-width="1.0"/>
<line x1="149.30" y1="348.62" x2="151.7" y2="348.62" stroke="#1a1a1a" stroke-width="1.0"/>
<line x1="149.30" y1="337.64" x2="151.7" y2="337.64" stroke="#1a1a1a" stroke-width="1.0"/>
<line x1="149.30" y1="333.40" x2="151.7" y2="333.40" stroke="#1a1a1a" stroke-width="1.0"/>
<line x1="149.30" y1="331.88" x2="151.7" y2="331.88" stroke="#1a1a1a" stroke-width="1.0"/>
<line x1="149.30" y1="329.49" x2="151.7" y2="329.49" stroke="#1a1a1a" stroke-width="1.0"/>
<line x1="149.30" y1="318.51" x2="151.7" y2="318.51" stroke="#1a1a1a" stroke-width="1.0"/>
<line x1="149.30" y1="314.27" x2="151.7" y2="314.27" stroke="#1a1a1a" stroke-width="1.0"/>
<line x1="149.30" y1="312.75" x2="151.7" y2="312.75" stroke="#1a1a1a" stroke-width="1.0"/>
<line x1="149.30" y1="310.36" x2="151.7" y2="310.36" stroke="#1a1a1a" stroke-width="1.0"/>
<line x1="149.30" y1="299.38" x2="151.7" y2="299.38" stroke="#1a1a1a" stroke-width="1.0"/>
<line x1="149.30" y1="295.14" x2="151.7" y2="295.14" stroke="#1a1a1a" stroke-width="1.0"/>
<line x1="149.30" y1="293.62" x2="151.7" y2="293.62" stroke="#1a1a1a" stroke-width="1.0"/>
<line x1="149.30" y1="291.23" x2="151.7" y2="291.23" stroke="#1a1a1a" stroke-width="1.0"/>
<text x="146.5" y="369.70" font-size="7.2" text-anchor="end" fill="#111" stroke="#111" stroke-width="0.12">10<tspan dx="0.6" dy="-2.6" font-size="4.8">1</tspan></text>
<line x1="148.30" y1="346.60" x2="151.7" y2="346.60" stroke="#1a1a1a" stroke-width="0.9"/>
<text x="146.5" y="350.40" font-size="7.2" text-anchor="end" fill="#111" stroke="#111" stroke-width="0.12">10<tspan dx="0.6" dy="-2.6" font-size="4.8">2</tspan></text>
<line x1="148.30" y1="327.50" x2="151.7" y2="327.50" stroke="#1a1a1a" stroke-width="0.9"/>
<text x="146.5" y="331.30" font-size="7.2" text-anchor="end" fill="#111" stroke="#111" stroke-width="0.12">10<tspan dx="0.6" dy="-2.6" font-size="4.8">3</tspan></text>
<line x1="148.30" y1="308.40" x2="151.7" y2="308.40" stroke="#1a1a1a" stroke-width="0.9"/>
<text x="146.5" y="312.20" font-size="7.2" text-anchor="end" fill="#111" stroke="#111" stroke-width="0.12">10<tspan dx="0.6" dy="-2.6" font-size="4.8">4</tspan></text>
<line x1="148.30" y1="289.30" x2="151.7" y2="289.30" stroke="#1a1a1a" stroke-width="0.9"/>
<text x="146.5" y="293.10" font-size="7.2" text-anchor="end" fill="#111" stroke="#111" stroke-width="0.12">10<tspan dx="0.6" dy="-2.6" font-size="4.8">5</tspan></text>
<line x1="151.0" y1="365.8" x2="227.7" y2="365.8" stroke="#1a1a1a" stroke-width="1.4"/>
<line x1="152" y1="347.5" x2="226.8" y2="347.5" stroke="#8f8f8f" stroke-width="1.3" stroke-dasharray="1 1"/>
<text x="229.6" y="349.9" font-size="8.2" text-anchor="start" font-weight="normal" fill="#1a1a1a" stroke="#1a1a1a" stroke-width="0.12" textLength="15.22" lengthAdjust="spacingAndGlyphs">LOD</text>
<circle cx="163.6" cy="313.4" r="1.7" fill="#0b3f7e"/>
<circle cx="163.6" cy="323.7" r="1.7" fill="#0b3f7e"/>
<circle cx="163.6" cy="327.7" r="1.7" fill="#0b3f7e"/>
<circle cx="163.6" cy="332.0" r="1.7" fill="#0b3f7e"/>
<circle cx="167.9" cy="321.8" r="1.7" fill="#0b3f7e"/>
<circle cx="163.6" cy="344.9" r="1.7" fill="#0b3f7e"/>
<circle cx="159.3" cy="348.0" r="1.7" fill="#0b3f7e"/>
<circle cx="167.9" cy="348.0" r="1.7" fill="#0b3f7e"/>
<circle cx="177.2" cy="314.6" r="1.7" fill="#12a52a"/>
<circle cx="177.2" cy="318.7" r="1.7" fill="#12a52a"/>
<circle cx="181.5" cy="317.0" r="1.7" fill="#12a52a"/>
<circle cx="186.0" cy="317.5" r="1.7" fill="#12a52a"/>
<circle cx="199.4" cy="306.4" r="1.7" fill="#430c63"/>
<circle cx="199.4" cy="322.5" r="1.7" fill="#430c63"/>
<circle cx="199.4" cy="329.7" r="1.7" fill="#430c63"/>
<circle cx="199.4" cy="348.3" r="1.7" fill="#430c63"/>
<circle cx="215.9" cy="303.6" r="1.7" fill="#ff8200"/>
<circle cx="219.0" cy="303.2" r="1.7" fill="#ff8200"/>
<circle cx="212.9" cy="306.5" r="1.7" fill="#ff8200"/>
<circle cx="215.6" cy="307.2" r="1.7" fill="#ff8200"/>
<circle cx="219.0" cy="309.3" r="1.7" fill="#ff8200"/>
<circle cx="221.9" cy="308.5" r="1.7" fill="#ff8200"/>
<circle cx="215.6" cy="310.9" r="1.7" fill="#ff8200"/>
<circle cx="215.9" cy="314.6" r="1.7" fill="#ff8200"/>
<circle cx="212.9" cy="317.1" r="1.7" fill="#ff8200"/>
<circle cx="221.9" cy="316.5" r="1.7" fill="#ff8200"/>
<circle cx="215.9" cy="320.6" r="1.7" fill="#ff8200"/>
<circle cx="219.0" cy="319.3" r="1.7" fill="#ff8200"/>
<circle cx="215.9" cy="331.2" r="1.7" fill="#ff8200"/>
<circle cx="219.0" cy="329.9" r="1.7" fill="#ff8200"/>
<circle cx="217.2" cy="337.8" r="1.7" fill="#ff8200"/>
<circle cx="217.2" cy="343.4" r="1.7" fill="#ff8200"/>
<text x="344.4" y="267.8" font-size="9.0" text-anchor="middle" font-weight="normal" fill="#111" stroke="#111" stroke-width="0.12" textLength="66.8" lengthAdjust="spacingAndGlyphs">Measles memory</text>
<text x="344.4" y="279.2" font-size="9.0" text-anchor="middle" font-weight="normal" fill="#111" stroke="#111" stroke-width="0.12" textLength="27.3" lengthAdjust="spacingAndGlyphs">B cells</text>
<text transform="translate(266.7,348.8) rotate(-90) scale(0.66,1)" x="0" y="0" font-size="9.0" text-anchor="start" textLength="69.55" lengthAdjust="spacing" fill="#111" stroke="#111" stroke-width="0.22">Measles-specific</text>
<text transform="translate(278.1,348.8) rotate(-90) scale(0.66,1)" x="0" y="0" font-size="9.0" text-anchor="start" textLength="71.82" lengthAdjust="spacing" fill="#111" stroke="#111" stroke-width="0.22">MBC/10<tspan dx="0.4" dy="-2.9" font-size="6.2">6</tspan><tspan dy="2.9"> PBMCs</tspan></text>
<line x1="305.0" y1="285.3" x2="305.0" y2="366.8" stroke="#1a1a1a" stroke-width="1.4"/>
<line x1="302.60" y1="365.71" x2="305.0" y2="365.71" stroke="#1a1a1a" stroke-width="1.0"/>
<line x1="302.60" y1="364.19" x2="305.0" y2="364.19" stroke="#1a1a1a" stroke-width="1.0"/>
<line x1="302.60" y1="357.16" x2="305.0" y2="357.16" stroke="#1a1a1a" stroke-width="1.0"/>
<line x1="302.60" y1="354.45" x2="305.0" y2="354.45" stroke="#1a1a1a" stroke-width="1.0"/>
<line x1="302.60" y1="353.48" x2="305.0" y2="353.48" stroke="#1a1a1a" stroke-width="1.0"/>
<line x1="302.60" y1="351.96" x2="305.0" y2="351.96" stroke="#1a1a1a" stroke-width="1.0"/>
<line x1="302.60" y1="344.93" x2="305.0" y2="344.93" stroke="#1a1a1a" stroke-width="1.0"/>
<line x1="302.60" y1="342.22" x2="305.0" y2="342.22" stroke="#1a1a1a" stroke-width="1.0"/>
<line x1="302.60" y1="341.25" x2="305.0" y2="341.25" stroke="#1a1a1a" stroke-width="1.0"/>
<line x1="302.60" y1="339.73" x2="305.0" y2="339.73" stroke="#1a1a1a" stroke-width="1.0"/>
<line x1="302.60" y1="332.70" x2="305.0" y2="332.70" stroke="#1a1a1a" stroke-width="1.0"/>
<line x1="302.60" y1="329.99" x2="305.0" y2="329.99" stroke="#1a1a1a" stroke-width="1.0"/>
<line x1="302.60" y1="329.02" x2="305.0" y2="329.02" stroke="#1a1a1a" stroke-width="1.0"/>
<line x1="302.60" y1="327.50" x2="305.0" y2="327.50" stroke="#1a1a1a" stroke-width="1.0"/>
<line x1="302.60" y1="320.47" x2="305.0" y2="320.47" stroke="#1a1a1a" stroke-width="1.0"/>
<line x1="302.60" y1="317.76" x2="305.0" y2="317.76" stroke="#1a1a1a" stroke-width="1.0"/>
<line x1="302.60" y1="316.79" x2="305.0" y2="316.79" stroke="#1a1a1a" stroke-width="1.0"/>
<line x1="302.60" y1="315.27" x2="305.0" y2="315.27" stroke="#1a1a1a" stroke-width="1.0"/>
<line x1="302.60" y1="308.24" x2="305.0" y2="308.24" stroke="#1a1a1a" stroke-width="1.0"/>
<line x1="302.60" y1="305.53" x2="305.0" y2="305.53" stroke="#1a1a1a" stroke-width="1.0"/>
<line x1="302.60" y1="304.56" x2="305.0" y2="304.56" stroke="#1a1a1a" stroke-width="1.0"/>
<line x1="302.60" y1="303.04" x2="305.0" y2="303.04" stroke="#1a1a1a" stroke-width="1.0"/>
<line x1="302.60" y1="296.01" x2="305.0" y2="296.01" stroke="#1a1a1a" stroke-width="1.0"/>
<line x1="302.60" y1="293.30" x2="305.0" y2="293.30" stroke="#1a1a1a" stroke-width="1.0"/>
<line x1="302.60" y1="292.33" x2="305.0" y2="292.33" stroke="#1a1a1a" stroke-width="1.0"/>
<line x1="302.60" y1="290.81" x2="305.0" y2="290.81" stroke="#1a1a1a" stroke-width="1.0"/>
<line x1="301.60" y1="363.00" x2="305.0" y2="363.00" stroke="#1a1a1a" stroke-width="0.9"/>
<text x="298.2" y="366.60" font-size="7.2" text-anchor="end" fill="#111" stroke="#111" stroke-width="0.12">10<tspan dx="0.6" dy="-2.6" font-size="4.8">−1</tspan></text>
<line x1="301.60" y1="350.60" x2="305.0" y2="350.60" stroke="#1a1a1a" stroke-width="0.9"/>
<text x="298.2" y="354.20" font-size="7.2" text-anchor="end" fill="#111" stroke="#111" stroke-width="0.12">10<tspan dx="0.6" dy="-2.6" font-size="4.8">0</tspan></text>
<line x1="301.60" y1="338.40" x2="305.0" y2="338.40" stroke="#1a1a1a" stroke-width="0.9"/>
<text x="298.2" y="342.00" font-size="7.2" text-anchor="end" fill="#111" stroke="#111" stroke-width="0.12">10<tspan dx="0.6" dy="-2.6" font-size="4.8">1</tspan></text>
<line x1="301.60" y1="326.10" x2="305.0" y2="326.10" stroke="#1a1a1a" stroke-width="0.9"/>
<text x="298.2" y="329.70" font-size="7.2" text-anchor="end" fill="#111" stroke="#111" stroke-width="0.12">10<tspan dx="0.6" dy="-2.6" font-size="4.8">2</tspan></text>
<line x1="301.60" y1="313.90" x2="305.0" y2="313.90" stroke="#1a1a1a" stroke-width="0.9"/>
<text x="298.2" y="317.50" font-size="7.2" text-anchor="end" fill="#111" stroke="#111" stroke-width="0.12">10<tspan dx="0.6" dy="-2.6" font-size="4.8">3</tspan></text>
<line x1="301.60" y1="301.70" x2="305.0" y2="301.70" stroke="#1a1a1a" stroke-width="0.9"/>
<text x="298.2" y="305.30" font-size="7.2" text-anchor="end" fill="#111" stroke="#111" stroke-width="0.12">10<tspan dx="0.6" dy="-2.6" font-size="4.8">4</tspan></text>
<line x1="301.60" y1="289.60" x2="305.0" y2="289.60" stroke="#1a1a1a" stroke-width="0.9"/>
<text x="298.2" y="293.20" font-size="7.2" text-anchor="end" fill="#111" stroke="#111" stroke-width="0.12">10<tspan dx="0.6" dy="-2.6" font-size="4.8">5</tspan></text>
<line x1="304.3" y1="366.2" x2="381" y2="366.2" stroke="#1a1a1a" stroke-width="1.4"/>
<line x1="305" y1="363.5" x2="380" y2="363.5" stroke="#8f8f8f" stroke-width="1.3" stroke-dasharray="1 1"/>
<text x="382.8" y="366.29999999999995" font-size="8.2" text-anchor="start" font-weight="normal" fill="#1a1a1a" stroke="#1a1a1a" stroke-width="0.12" textLength="15.22" lengthAdjust="spacingAndGlyphs">LOD</text>
<circle cx="312.0" cy="364" r="1.6" fill="#0b3f7e"/>
<circle cx="313.5" cy="364" r="1.6" fill="#0b3f7e"/>
<circle cx="315.0" cy="364" r="1.6" fill="#0b3f7e"/>
<circle cx="316.5" cy="364" r="1.6" fill="#0b3f7e"/>
<circle cx="318.0" cy="364" r="1.6" fill="#0b3f7e"/>
<circle cx="319.5" cy="364" r="1.6" fill="#0b3f7e"/>
<circle cx="321.0" cy="364" r="1.6" fill="#0b3f7e"/>
<circle cx="322.3" cy="364" r="1.6" fill="#0b3f7e"/>
<circle cx="317.1" cy="344.9" r="1.6" fill="#0b3f7e"/>
<circle cx="317.1" cy="353.2" r="1.6" fill="#0b3f7e"/>
<circle cx="330.0" cy="364" r="1.6" fill="#12a52a"/>
<circle cx="332.5" cy="364" r="1.6" fill="#12a52a"/>
<circle cx="335.0" cy="364" r="1.6" fill="#12a52a"/>
<circle cx="337.5" cy="364" r="1.6" fill="#12a52a"/>
<circle cx="339.9" cy="364" r="1.6" fill="#12a52a"/>
<circle cx="353.1" cy="346.8" r="1.6" fill="#430c63"/>
<circle cx="353.1" cy="357.0" r="1.6" fill="#430c63"/>
<circle cx="348.6" cy="364" r="1.6" fill="#430c63"/>
<circle cx="357.5" cy="364" r="1.6" fill="#430c63"/>
<circle cx="371.1" cy="317.6" r="1.6" fill="#ff8200"/>
<circle cx="371.1" cy="321.9" r="1.6" fill="#ff8200"/>
<circle cx="366.4" cy="328.8" r="1.6" fill="#ff8200"/>
<circle cx="375.3" cy="327.3" r="1.6" fill="#ff8200"/>
<circle cx="371.1" cy="331.9" r="1.6" fill="#ff8200"/>
<circle cx="371.1" cy="335.3" r="1.6" fill="#ff8200"/>
<rect x="0.5" y="0.5" width="519" height="376" fill="none" stroke="#000" stroke-width="1.2"/>
</svg></body></html>
